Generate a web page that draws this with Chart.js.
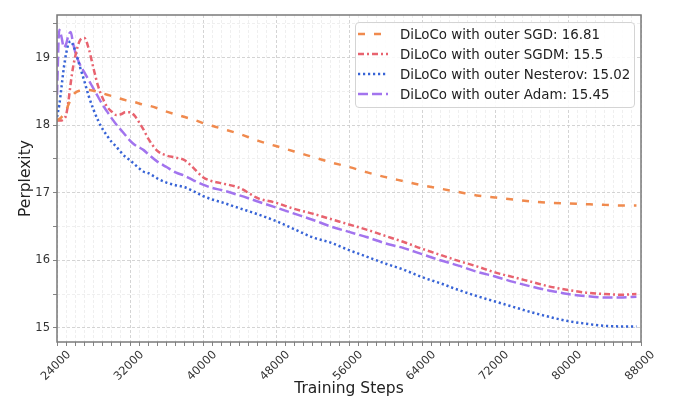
<!DOCTYPE html>
<html>
<head>
<meta charset="utf-8">
<script src="https://cdn.jsdelivr.net/npm/chart.js@4.4.0/dist/chart.umd.min.js"></script>
<style>
  body { margin: 0; background: #fff; }
  #wrap { position: relative; width: 680px; height: 412px; }
  #legend {
    position: absolute;
    width: 278px;
    padding: 1px 0 3px 0;
    background: rgba(255,255,255,0.85);
    border: 1px solid #d4d4d4;
    border-radius: 4px;
    font-family: "DejaVu Sans", sans-serif;
    font-size: 13.4px;
    color: #222;
  }
  #legend .row { display: flex; align-items: center; height: 20px; }
  #legend svg { margin: 0 12px 0 2px; }
</style>
</head>
<body>
<div id="wrap">
  <canvas id="chart" width="680" height="412"></canvas>
  <div id="legend"></div>
</div>
<script>
const steps = [24000, 24250, 24500, 24750, 25000, 25250, 25500, 25750, 26000, 26500,
  27000, 27500, 28000, 28500, 29000, 29500, 30000, 30500, 31000, 31500,
  32000, 32500, 33000, 33500, 34000, 35000, 36000, 37000, 38000, 39000,
  40000, 41000, 42000, 44000, 46000, 48000, 50000, 52000, 54000, 56000,
  58000, 60000, 62000, 64000, 66000, 68000, 70000, 72000, 74000, 76000,
  78000, 80000, 82000, 84000, 86000, 87500];

const sgd = [18.07, 18.09, 18.12, 18.16, 18.22, 18.30, 18.38, 18.44, 18.48, 18.51,
  18.52, 18.52, 18.51, 18.49, 18.47, 18.45, 18.43, 18.41, 18.39, 18.37,
  18.35, 18.34, 18.32, 18.30, 18.29, 18.25, 18.20, 18.16, 18.12, 18.08,
  18.03, 17.99, 17.95, 17.87, 17.77, 17.69, 17.61, 17.53, 17.45, 17.38,
  17.30, 17.23, 17.17, 17.11, 17.06, 17.01, 16.96, 16.93, 16.90, 16.87,
  16.85, 16.84, 16.83, 16.82, 16.81, 16.81];

const sgdm = [18.07, 18.07, 18.07, 18.09, 18.15, 18.35, 18.62, 18.85, 19.02, 19.25,
  19.29, 19.12, 18.84, 18.58, 18.40, 18.27, 18.20, 18.15, 18.16, 18.19,
  18.19, 18.14, 18.04, 17.93, 17.80, 17.62, 17.55, 17.52, 17.48, 17.36,
  17.23, 17.17, 17.14, 17.07, 16.92, 16.85, 16.76, 16.69, 16.61, 16.53,
  16.45, 16.36, 16.27, 16.17, 16.08, 15.99, 15.91, 15.82, 15.75, 15.68,
  15.61, 15.56, 15.52, 15.50, 15.49, 15.50];

const nesterov = [18.12, 18.30, 18.57, 18.85, 19.06, 19.20, 19.24, 19.19, 19.10, 18.87,
  18.65, 18.42, 18.23, 18.07, 17.94, 17.84, 17.75, 17.68, 17.60, 17.53,
  17.48, 17.42, 17.36, 17.31, 17.29, 17.21, 17.15, 17.11, 17.08, 17.02,
  16.95, 16.90, 16.86, 16.77, 16.68, 16.58, 16.46, 16.34, 16.26, 16.15,
  16.05, 15.95, 15.86, 15.75, 15.66, 15.56, 15.47, 15.39, 15.31, 15.23,
  15.16, 15.10, 15.06, 15.03, 15.02, 15.02];

const adam = [18.45, 19.41, 19.30, 19.15, 19.20, 19.33, 19.38, 19.22, 19.08, 18.90,
  18.78, 18.66, 18.54, 18.42, 18.30, 18.20, 18.10, 18.01, 17.93, 17.85,
  17.77, 17.71, 17.67, 17.63, 17.57, 17.46, 17.38, 17.30, 17.25, 17.18,
  17.12, 17.07, 17.04, 16.96, 16.87, 16.78, 16.69, 16.60, 16.50, 16.42,
  16.34, 16.25, 16.18, 16.09, 16.00, 15.92, 15.83, 15.76, 15.68, 15.61,
  15.55, 15.50, 15.47, 15.45, 15.45, 15.46];

const seriesNames = ['DiLoCo with outer SGD: 16.81', 'DiLoCo with outer SGDM: 15.5',
  'DiLoCo with outer Nesterov: 15.02', 'DiLoCo with outer Adam: 15.45'];
const seriesColors = ['#f08a4e', '#e8636f', '#3763d6', '#a274ee'];
const seriesDash = [[7, 9], [6, 3, 2, 3], [2.2, 2.8], [10, 4]];

const xTickLabels = [24000, 32000, 40000, 48000, 56000, 64000, 72000, 80000, 88000];
const yTickLabels = [15, 16, 17, 18, 19];

Chart.defaults.font.family = '"DejaVu Sans", sans-serif';
Chart.defaults.color = '#333';

const allSeries = [sgd, sgdm, nesterov, adam];
const datasets = allSeries.map((vals, i) => ({
  label: seriesNames[i],
  data: steps.map((s, j) => ({ x: s, y: vals[j] })),
  borderColor: seriesColors[i],
  borderDash: seriesDash[i],
  borderWidth: 2.5,
  pointRadius: 0,
  cubicInterpolationMode: 'monotone',
  fill: false
}));

const frame = {
  id: 'frame',
  afterDatasetsDraw(chart) {
    const { ctx, chartArea: a } = chart;
    ctx.save();
    ctx.strokeStyle = '#7a7a7a';
    ctx.lineWidth = 1.5;
    ctx.strokeRect(a.left, a.top, a.right - a.left, a.bottom - a.top);
    ctx.restore();
  }
};

const chart = new Chart(document.getElementById('chart').getContext('2d'), {
  type: 'line',
  data: { datasets: datasets },
  plugins: [frame],
  options: {
    responsive: false,
    animation: false,
    layout: { padding: { left: 0, top: 15, right: 39, bottom: 0 } },
    plugins: { legend: { display: false }, tooltip: { enabled: false } },
    scales: {
      x: {
        type: 'linear',
        min: 24000,
        max: 88000,
        afterFit: scale => { scale.height = 70; },
        border: { display: false, dash: [3, 2] },
        grid: {
          color: c => (c.tick && xTickLabels.includes(c.tick.value)) ? '#c9c9c9' : '#ebebeb',
          lineWidth: 0.8,
          tickLength: 4,
          tickColor: '#666'
        },
        ticks: {
          stepSize: 1000,
          autoSkip: false,
          minRotation: 45,
          maxRotation: 45,
          labelOffset: 12,
          padding: 2,
          font: { size: 11.5 },
          callback: v => xTickLabels.includes(v) ? String(v) : ''
        },
        title: {
          display: true,
          text: 'Training Steps',
          font: { size: 15.5 },
          color: '#222',
          padding: { top: 0, bottom: 14 }
        }
      },
      y: {
        min: 14.79,
        max: 19.63,
        afterFit: scale => { scale.width = 57; },
        border: { display: false, dash: [3, 2] },
        grid: {
          color: c => (c.tick && yTickLabels.includes(c.tick.value)) ? '#c9c9c9' : '#ebebeb',
          lineWidth: 0.8,
          tickLength: 4,
          tickColor: '#666'
        },
        ticks: {
          stepSize: 0.5,
          includeBounds: false,
          padding: 3,
          font: { size: 11.5 },
          callback: v => yTickLabels.includes(v) ? String(v) : ''
        },
        title: {
          display: true,
          text: 'Perplexity',
          font: { size: 15.5 },
          color: '#222',
          padding: { top: 17, bottom: 0 }
        }
      }
    }
  }
});

// html legend placed inside the upper right of the plot area
const legend = document.getElementById('legend');
chart.data.datasets.forEach(ds => {
  const row = document.createElement('div');
  row.className = 'row';
  row.innerHTML = '<svg width="30" height="10"><line x1="0" y1="5" x2="30" y2="5" stroke="' +
    ds.borderColor + '" stroke-width="2.5" stroke-dasharray="' + ds.borderDash.join(' ') +
    '"/></svg><span>' + ds.label + '</span>';
  legend.appendChild(row);
});
legend.style.right = (chart.width - chart.chartArea.right + 6) + 'px';
legend.style.top = (chart.chartArea.top + 7) + 'px';
</script>
</body>
</html>
